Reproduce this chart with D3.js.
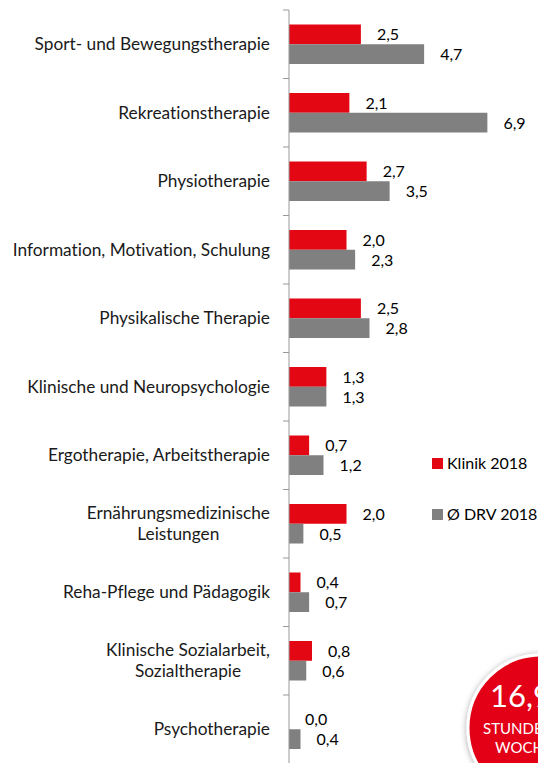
<!DOCTYPE html>
<html lang="de">
<head>
<meta charset="UTF-8">
<title>Therapiestunden</title>
<script src="https://d3js.org/d3.v7.min.js"></script>
<style>
  body { margin: 0; background: #fff; }
  text { font-family: Lato, "Open Sans", sans-serif; font-variant-ligatures: none; }
</style>
</head>
<body>
<svg width="538" height="763"></svg>
<script>
// Daten
var categories = [
  "Sport- und Bewegungstherapie",
  "Rekreationstherapie",
  "Physiotherapie",
  "Information, Motivation, Schulung",
  "Physikalische Therapie",
  "Klinische und Neuropsychologie",
  "Ergotherapie, Arbeitstherapie",
  "Ernährungsmedizinische|Leistungen",
  "Reha-Pflege und Pädagogik",
  "Klinische Sozialarbeit,|Sozialtherapie",
  "Psychotherapie"
];
var seriesNames = ["Klinik 2018", "Ø DRV 2018"];
var klinik = [2.5, 2.1, 2.7, 2.0, 2.5, 1.3, 0.7, 2.0, 0.4, 0.8, 0.0];
var drv    = [4.7, 6.9, 3.5, 2.3, 2.8, 1.3, 1.2, 0.5, 0.7, 0.6, 0.4];
var colors = ["#e30613", "#808080"];

var svg = d3.select("svg");
var axisX = 289;

var y0 = d3.scaleBand().domain(d3.range(categories.length)).range([10, 763.5]);
var y1 = d3.scaleBand().domain([0, 1]).range([14.5, 54]);
var x = d3.scaleLinear().domain([0, 7]).range([axisX, axisX + 7 * 28.75]);
var fmt = function (v) { return d3.format(".1f")(v).replace(".", ","); };

var rows = categories.map(function (c, i) {
  return { name: c, i: i, vals: [klinik[i], drv[i]] };
});

// Balken
var g = svg.append("g");
var groups = g.selectAll(".cat").data(rows).enter().append("g")
  .attr("transform", function (d) { return "translate(0," + y0(d.i) + ")"; });

groups.selectAll("rect").data(function (d) { return d.vals; }).enter().append("rect")
  .attr("x", x(0))
  .attr("y", function (d, j) { return y1(j); })
  .attr("width", function (d) { return x(d) - x(0); })
  .attr("height", y1.bandwidth())
  .attr("fill", function (d, j) { return colors[j]; });

// Werte
groups.selectAll(".val").data(function (d) { return d.vals; }).enter().append("text")
  .attr("x", function (d) { return x(d) + 16; })
  .attr("y", function (d, j) { return y1(j) + y1.bandwidth() / 2 + 6; })
  .attr("font-size", 16)
  .attr("fill", "#000")
  .text(fmt);

// Achse mit Teilstrichen
svg.append("g").selectAll("line").data(d3.range(categories.length + 1)).enter().append("line")
  .attr("x1", axisX - 6).attr("x2", axisX)
  .attr("y1", function (d) { return 10 + d * y0.step(); })
  .attr("y2", function (d) { return 10 + d * y0.step(); })
  .attr("stroke", "#999");
svg.append("line").attr("x1", axisX).attr("x2", axisX).attr("y1", 10).attr("y2", 763)
  .attr("stroke", "#999");

// Kategorien
var labels = groups.append("text")
  .attr("font-size", 17.3)
  .attr("fill", "#1a1a1a");
labels.each(function (d) {
  var t = d3.select(this);
  var lines = d.name.split("|");
  var mid = y0.bandwidth() / 2;
  if (lines.length === 1) {
    t.attr("text-anchor", "end").attr("x", 270).attr("y", mid + 6).text(lines[0]);
  } else {
    t.attr("text-anchor", "middle");
    var spans = lines.map(function (l, k) {
      return t.append("tspan").attr("y", mid - 4.5 + k * 21).text(l);
    });
    var w = d3.max(spans, function (s) { return s.node().getComputedTextLength(); });
    spans.forEach(function (s) { s.attr("x", 270 - w / 2); });
  }
});

// Legende
var leg = svg.append("g").selectAll("g").data(seriesNames).enter().append("g")
  .attr("transform", function (d, i) { return "translate(432," + (458 + i * 51) + ")"; });
leg.append("rect").attr("width", 11).attr("height", 11)
  .attr("fill", function (d, i) { return colors[i]; });
leg.append("text").attr("x", 15).attr("y", 11).attr("font-size", 16).text(function (d) { return d; });

// Kreis (rechts unten, angeschnitten wie im Original)
var defs = svg.append("defs");
var f = defs.append("filter").attr("id", "sh").attr("x", "-30%").attr("y", "-30%")
  .attr("width", "160%").attr("height", "160%");
f.append("feDropShadow").attr("dx", 0).attr("dy", 1).attr("stdDeviation", 3)
  .attr("flood-color", "#000").attr("flood-opacity", 0.35);
svg.append("circle").attr("cx", 541).attr("cy", 728).attr("r", 73)
  .attr("fill", "#e30613").attr("stroke", "#fff").attr("stroke-width", 3)
  .attr("filter", "url(#sh)");
svg.append("text").attr("x", 490).attr("y", 707).attr("font-size", 31)
  .attr("fill", "#fff").text("16,9");
svg.append("text").attr("x", 483).attr("y", 734).attr("font-size", 15)
  .attr("fill", "#fff").text("STUNDEN");
svg.append("text").attr("x", 495).attr("y", 753).attr("font-size", 15)
  .attr("fill", "#fff").text("WOCHE");
</script>
</body>
</html>
